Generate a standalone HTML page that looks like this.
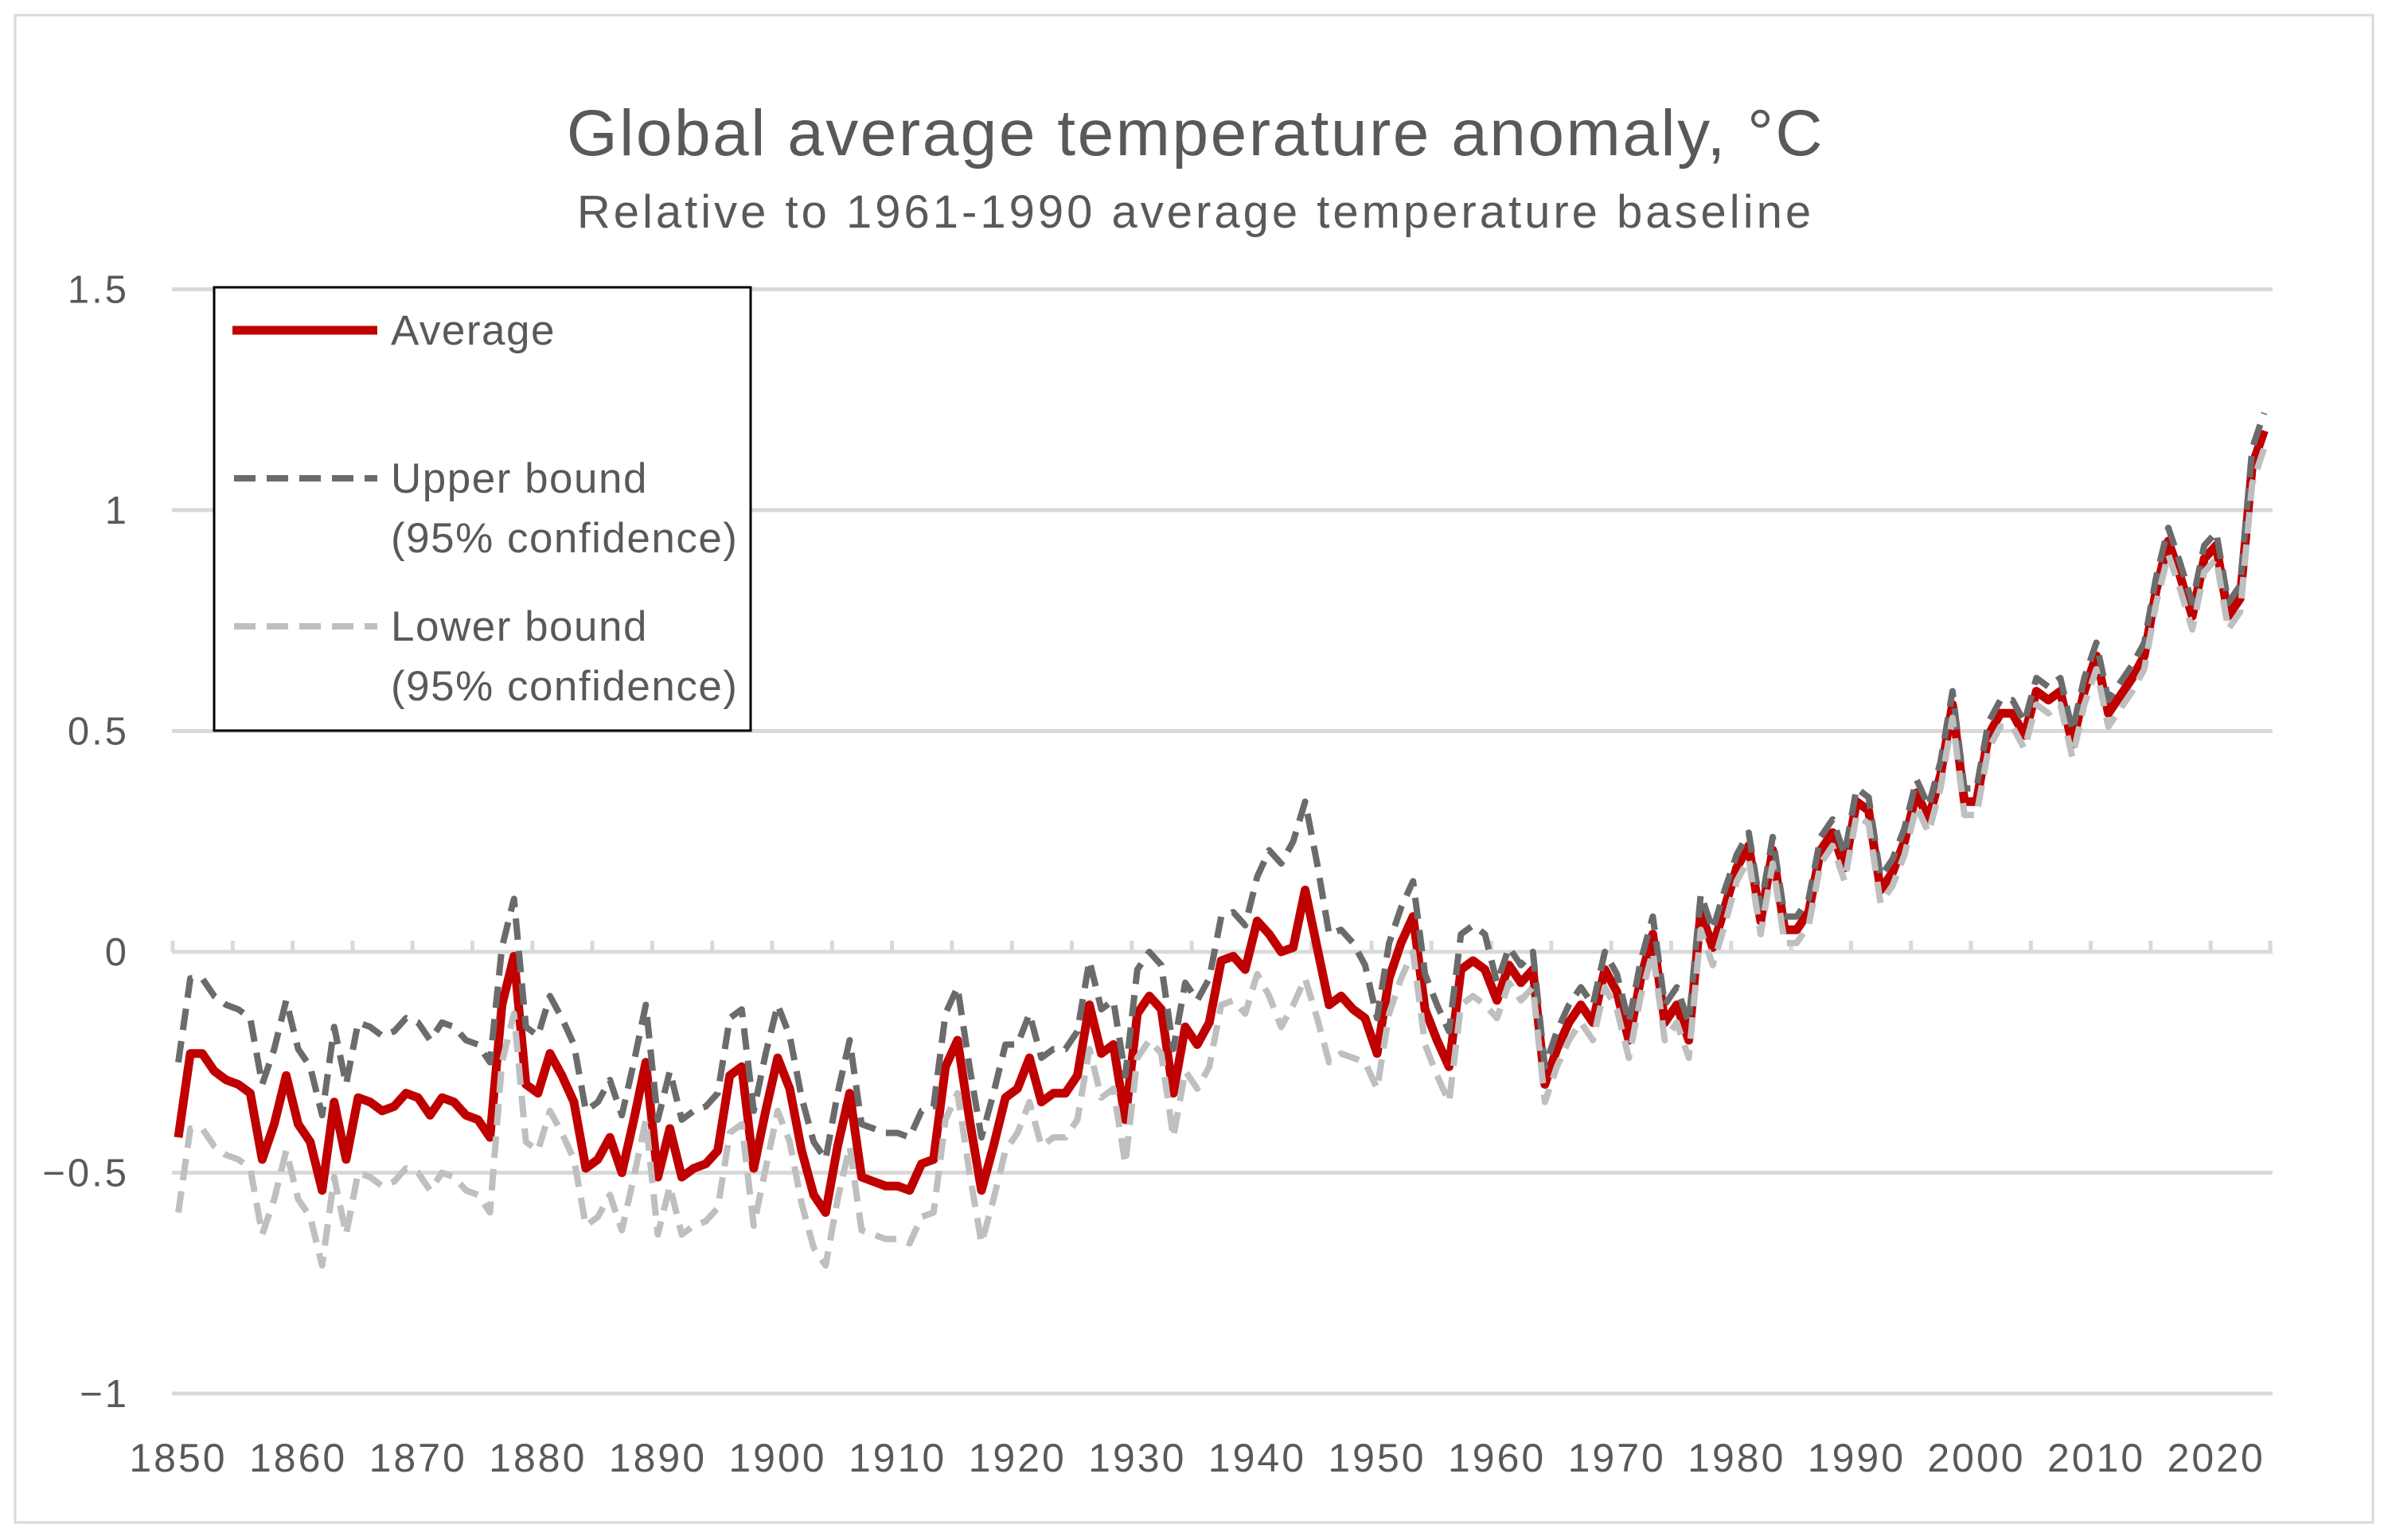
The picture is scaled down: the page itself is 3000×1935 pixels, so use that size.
<!DOCTYPE html>
<html><head><meta charset="utf-8"><style>
html,body{margin:0;padding:0;background:#fff;}
svg{display:block;font-family:"Liberation Sans",sans-serif;}
</style></head><body>
<svg id="chart" width="3000" height="1935" viewBox="0 0 3000 1935" xmlns="http://www.w3.org/2000/svg">
<rect x="19" y="19" width="2962" height="1894" fill="#fff" stroke="#d9d9d9" stroke-width="3"/>
<text x="1502" y="195" text-anchor="middle" font-size="82" letter-spacing="2.5" fill="#595959">Global average temperature anomaly, °C</text>
<text x="1502" y="286" text-anchor="middle" font-size="58" letter-spacing="4" fill="#595959">Relative to 1961-1990 average temperature baseline</text>
<g id="grid"></g>
<g id="yticks"></g>
<g id="xticks"></g>
<g id="series"></g>
<g>
<rect x="269" y="361" width="674" height="557" fill="#fff" stroke="#000" stroke-width="3"/>
<line x1="292" y1="415" x2="474" y2="415" stroke="#c00000" stroke-width="11"/>
<text x="491" y="433" font-size="53" letter-spacing="1.5" fill="#595959">Average</text>
<line x1="294" y1="601" x2="474" y2="601" stroke="#6b6b6b" stroke-width="8" stroke-dasharray="27,14"/>
<text x="491" y="619" font-size="53" letter-spacing="1.5" fill="#595959">Upper bound</text>
<text x="491" y="694" font-size="53" letter-spacing="1.5" fill="#595959">(95% confidence)</text>
<line x1="294" y1="787" x2="474" y2="787" stroke="#bfbfbf" stroke-width="8" stroke-dasharray="27,14"/>
<text x="491" y="805" font-size="53" letter-spacing="1.5" fill="#595959">Lower bound</text>
<text x="491" y="880" font-size="53" letter-spacing="1.5" fill="#595959">(95% confidence)</text>
</g>
</svg>
<script>
const firstYear = 1850;
const yTicks = [1.5, 1, 0.5, 0, -0.5, -1];
const yTickLabels = ["1.5", "1", "0.5", "0", "\u22120.5", "\u22121"];
const xTickYears = [1850,1860,1870,1880,1890,1900,1910,1920,1930,1940,1950,1960,1970,1980,1990,2000,2010,2020];
const average = [
-0.42,-0.23,-0.23,-0.27,-0.29,-0.30,-0.32,-0.47,-0.39,-0.28,
-0.39,-0.43,-0.54,-0.34,-0.47,-0.33,-0.34,-0.36,-0.35,-0.32,
-0.33,-0.37,-0.33,-0.34,-0.37,-0.38,-0.42,-0.12,-0.01,-0.30,
-0.32,-0.23,-0.28,-0.34,-0.49,-0.47,-0.42,-0.50,-0.38,-0.25,
-0.51,-0.40,-0.51,-0.49,-0.48,-0.45,-0.28,-0.26,-0.49,-0.36,
-0.24,-0.31,-0.45,-0.55,-0.59,-0.44,-0.32,-0.51,-0.52,-0.53,
-0.53,-0.54,-0.48,-0.47,-0.26,-0.20,-0.38,-0.54,-0.44,-0.33,
-0.31,-0.24,-0.34,-0.32,-0.32,-0.28,-0.12,-0.23,-0.21,-0.38,
-0.14,-0.10,-0.13,-0.32,-0.17,-0.21,-0.16,-0.02,-0.01,-0.04,
0.07,0.04,0.00,0.01,0.14,0.01,-0.12,-0.10,-0.13,-0.15,
-0.23,-0.06,0.02,0.08,-0.13,-0.20,-0.26,-0.04,-0.02,-0.04,
-0.11,-0.03,-0.07,-0.04,-0.30,-0.22,-0.16,-0.12,-0.16,-0.04,
-0.09,-0.20,-0.06,0.04,-0.16,-0.12,-0.20,0.09,0.01,0.10,
0.19,0.24,0.07,0.23,0.05,0.05,0.09,0.23,0.27,0.19,
0.34,0.32,0.14,0.18,0.25,0.36,0.30,0.40,0.56,0.34,
0.34,0.49,0.54,0.54,0.49,0.59,0.57,0.59,0.47,0.59,
0.67,0.54,0.58,0.62,0.67,0.82,0.93,0.85,0.76,0.89,
0.92,0.76,0.80,1.10,1.18];
const upper = [
-0.25,-0.06,-0.06,-0.10,-0.12,-0.13,-0.15,-0.30,-0.22,-0.11,
-0.22,-0.26,-0.37,-0.17,-0.30,-0.16,-0.17,-0.19,-0.18,-0.15,
-0.16,-0.20,-0.16,-0.17,-0.20,-0.21,-0.25,0.01,0.12,-0.17,
-0.19,-0.10,-0.15,-0.21,-0.36,-0.34,-0.29,-0.37,-0.25,-0.12,
-0.38,-0.27,-0.38,-0.36,-0.35,-0.32,-0.15,-0.13,-0.36,-0.23,
-0.12,-0.19,-0.33,-0.43,-0.47,-0.32,-0.20,-0.39,-0.40,-0.41,
-0.41,-0.42,-0.36,-0.35,-0.14,-0.08,-0.26,-0.42,-0.32,-0.21,
-0.21,-0.14,-0.24,-0.22,-0.22,-0.18,-0.02,-0.13,-0.11,-0.28,
-0.04,0.00,-0.03,-0.22,-0.07,-0.11,-0.06,0.08,0.09,0.06,
0.17,0.23,0.20,0.25,0.34,0.20,0.04,0.05,0.02,-0.03,
-0.15,0.02,0.10,0.16,-0.05,-0.12,-0.18,0.04,0.06,0.04,
-0.07,0.01,-0.03,0.00,-0.26,-0.18,-0.12,-0.08,-0.12,0.00,
-0.05,-0.16,-0.02,0.08,-0.12,-0.08,-0.16,0.13,0.05,0.14,
0.22,0.27,0.10,0.26,0.08,0.08,0.12,0.26,0.30,0.22,
0.37,0.35,0.17,0.21,0.28,0.39,0.33,0.43,0.59,0.37,
0.37,0.52,0.57,0.57,0.52,0.62,0.60,0.62,0.50,0.62,
0.70,0.57,0.61,0.65,0.70,0.85,0.96,0.88,0.79,0.92,
0.95,0.79,0.83,1.14,1.22];
const lower = [
-0.59,-0.40,-0.40,-0.44,-0.46,-0.47,-0.49,-0.64,-0.56,-0.45,
-0.56,-0.60,-0.71,-0.51,-0.64,-0.50,-0.51,-0.53,-0.52,-0.49,
-0.50,-0.54,-0.50,-0.51,-0.54,-0.55,-0.59,-0.25,-0.14,-0.43,
-0.45,-0.36,-0.41,-0.47,-0.62,-0.60,-0.55,-0.63,-0.51,-0.38,
-0.64,-0.53,-0.64,-0.62,-0.61,-0.58,-0.41,-0.39,-0.62,-0.49,
-0.36,-0.43,-0.57,-0.67,-0.71,-0.56,-0.44,-0.63,-0.64,-0.65,
-0.65,-0.66,-0.60,-0.59,-0.38,-0.32,-0.50,-0.66,-0.56,-0.45,
-0.41,-0.34,-0.44,-0.42,-0.42,-0.38,-0.22,-0.33,-0.31,-0.48,
-0.24,-0.20,-0.23,-0.42,-0.27,-0.31,-0.26,-0.12,-0.11,-0.14,
-0.05,-0.10,-0.17,-0.12,-0.06,-0.15,-0.25,-0.23,-0.24,-0.25,
-0.31,-0.14,-0.06,0.00,-0.21,-0.28,-0.34,-0.12,-0.10,-0.12,
-0.15,-0.07,-0.11,-0.08,-0.34,-0.26,-0.20,-0.16,-0.20,-0.08,
-0.13,-0.24,-0.10,0.00,-0.20,-0.16,-0.24,0.05,-0.03,0.06,
0.16,0.21,0.04,0.20,0.02,0.02,0.06,0.20,0.24,0.16,
0.31,0.29,0.11,0.15,0.22,0.33,0.27,0.37,0.53,0.31,
0.31,0.46,0.51,0.51,0.46,0.56,0.54,0.56,0.44,0.56,
0.64,0.51,0.55,0.59,0.64,0.79,0.90,0.82,0.73,0.86,
0.89,0.73,0.77,1.06,1.14];

const NS = "http://www.w3.org/2000/svg";
const plotLeft = 216, plotRight = 2855;
function xScale(year){ return 224 + (year - 1850) * 15.06; }
function yScale(v){ return 1196 - v * 555; }

const grid = document.getElementById('grid');
const yt = document.getElementById('yticks');
yTicks.forEach((v, i) => {
  const ln = document.createElementNS(NS, 'line');
  
  
  ln.setAttribute('x1', plotLeft); ln.setAttribute('x2', plotRight);
  ln.setAttribute('y1', yScale(v)); ln.setAttribute('y2', yScale(v));
  ln.setAttribute('stroke', '#d9d9d9'); ln.setAttribute('stroke-width', '5');
  grid.appendChild(ln);
  const t = document.createElementNS(NS, 'text');
  
  
  t.setAttribute('x', 162); t.setAttribute('y', yScale(v) + 17);
  t.setAttribute('text-anchor', 'end'); t.setAttribute('font-size', '49'); t.setAttribute('letter-spacing', '3'); t.setAttribute('fill', '#595959');
  t.textContent = yTickLabels[i];
  yt.appendChild(t);
});
for (let yr = firstYear; yr <= 2025; yr += 5) {
  const tk = document.createElementNS(NS, 'line');
  
  
  const x = Math.min(xScale(yr) - 7, plotRight - 3);
  tk.setAttribute('x1', x); tk.setAttribute('x2', x);
  tk.setAttribute('y1', yScale(0)); tk.setAttribute('y2', yScale(0) - 14);
  tk.setAttribute('stroke', '#d9d9d9'); tk.setAttribute('stroke-width', '5');
  grid.appendChild(tk);
}
const xt = document.getElementById('xticks');
xTickYears.forEach(yr => {
  const t = document.createElementNS(NS, 'text');
  
  
  t.setAttribute('x', xScale(yr)); t.setAttribute('y', 1849);
  t.setAttribute('text-anchor', 'middle'); t.setAttribute('font-size', '50'); t.setAttribute('letter-spacing', '3'); t.setAttribute('fill', '#595959');
  t.textContent = String(yr);
  xt.appendChild(t);
});
const sg = document.getElementById('series');
function drawLine(vals, color, width, dash, name) {
  const p = document.createElementNS(NS, 'polyline');
  
  
  p.setAttribute('points', vals.map((v, i) => xScale(firstYear + i).toFixed(1) + ',' + yScale(v).toFixed(1)).join(' '));
  p.setAttribute('fill', 'none'); p.setAttribute('stroke', color);
  p.setAttribute('stroke-width', width); p.setAttribute('stroke-linejoin', 'round');
  if (dash) p.setAttribute('stroke-dasharray', dash);
  sg.appendChild(p);
}
drawLine(average, '#c00000', 11, null, 'average-line');
drawLine(upper, '#6b6b6b', 8, '27,14', 'upper-bound-line');
drawLine(lower, '#bfbfbf', 8, '27,14', 'lower-bound-line');
</script>
</body></html>
